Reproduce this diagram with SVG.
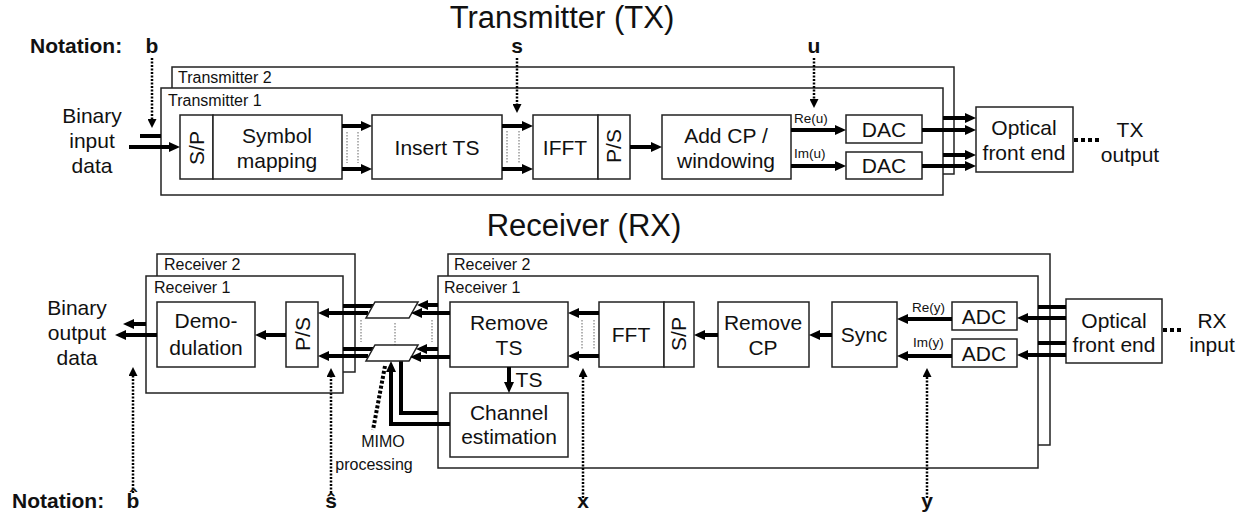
<svg xmlns="http://www.w3.org/2000/svg" width="1248" height="520" viewBox="0 0 1248 520">
<style>
text{font-family:"Liberation Sans",Arial,Helvetica,sans-serif;fill:#111}
.t{font-size:21px;text-anchor:middle}
.c{font-size:16px}
.xs{font-size:13.5px}
.b{font-weight:bold;font-size:21px;text-anchor:middle}
.title{font-size:31px;text-anchor:middle}
.box{fill:#fff;stroke:#222;stroke-width:1.5}
.th{fill:none;stroke:#000;stroke-width:4}
.dt{fill:none;stroke:#000;stroke-width:2.5;stroke-dasharray:2 1.5}
.fd{fill:none;stroke:#666;stroke-width:1;stroke-dasharray:1.5 1.5}
.big{fill:none;stroke:#000;stroke-width:4;stroke-dasharray:4 3}
</style>
<defs>
<marker id="a" viewBox="0 0 11 10" refX="3" refY="5" markerWidth="11" markerHeight="10" markerUnits="userSpaceOnUse" orient="auto"><path d="M0,0 L11,5 L0,10 Z" fill="#000"/></marker>
<marker id="d" viewBox="0 0 9 9" refX="2" refY="4.5" markerWidth="9" markerHeight="9" markerUnits="userSpaceOnUse" orient="auto"><path d="M0,0 L9,4.5 L0,9 Z" fill="#000"/></marker>
</defs>

<g id="titles">
<text class="title" x="562" y="27.5">Transmitter (TX)</text>
<text class="title" x="584" y="236">Receiver (RX)</text>
</g>

<g id="notation-top">
<text x="30" y="53" style="font-weight:bold;font-size:21px">Notation:</text>
<text class="b" x="152" y="53">b</text>
<text class="b" x="517" y="53">s</text>
<text class="b" x="814" y="53">u</text>
</g>

<g id="tx-containers">
<rect id="tx2" class="box" x="172" y="67" width="782" height="107"/>
<text class="c" x="178" y="83">Transmitter 2</text>
<rect id="tx1" class="box" x="161" y="88" width="782" height="107"/>
<text class="c" x="168" y="106">Transmitter 1</text>
</g>

<g id="tx-input">
<text class="t" x="92" y="123">Binary</text>
<text class="t" x="92" y="148">input</text>
<text class="t" x="92" y="173">data</text>
</g>

<g id="sp-symbol">
<rect class="box" x="180" y="115" width="33" height="64"/>
<rect class="box" x="213" y="115" width="129" height="64"/>
<text class="t" transform="translate(204,148) rotate(-90)">S/P</text>
<text class="t" x="277" y="143">Symbol</text>
<text class="t" x="277" y="168">mapping</text>
</g>

<g id="insert-ts">
<rect class="box" x="372" y="115" width="130" height="64"/>
<text class="t" x="437" y="155">Insert TS</text>
</g>

<g id="ifft-ps">
<rect class="box" x="533" y="115" width="65" height="64"/>
<rect class="box" x="598" y="115" width="32" height="64"/>
<text class="t" x="565" y="155">IFFT</text>
<text class="t" transform="translate(621,146) rotate(-90)">P/S</text>
</g>

<g id="add-cp">
<rect class="box" x="662" y="115" width="129" height="64"/>
<text class="t" x="726" y="143">Add CP /</text>
<text class="t" x="726" y="168">windowing</text>
</g>

<g id="dac1">
<rect class="box" x="846" y="115" width="76" height="28"/>
<text class="t" x="884" y="136.5">DAC</text>
</g>
<g id="dac2">
<rect class="box" x="846" y="152" width="76" height="27"/>
<text class="t" x="884" y="173">DAC</text>
</g>

<g id="tx-ofe">
<rect class="box" x="976" y="107" width="97" height="65"/>
<text class="t" x="1024" y="135">Optical</text>
<text class="t" x="1024" y="160">front end</text>
</g>
<g id="tx-output">
<text class="t" x="1130" y="137">TX</text>
<text class="t" x="1130" y="162">output</text>
</g>

<g id="rx-left-containers">
<rect id="rxl2" class="box" x="157" y="254" width="198" height="118"/>
<text class="c" x="164" y="270">Receiver 2</text>
<rect id="rxl1" class="box" x="146" y="276" width="197" height="117"/>
<text class="c" x="154" y="293">Receiver 1</text>
</g>

<g id="rx-right-containers">
<rect id="rxr2" class="box" x="448" y="254" width="602" height="191"/>
<text class="c" x="454" y="270">Receiver 2</text>
<rect id="rxr1" class="box" x="438" y="276" width="600" height="192"/>
<text class="c" x="444" y="293">Receiver 1</text>
</g>

<g id="rx-output">
<text class="t" x="77" y="315">Binary</text>
<text class="t" x="77" y="340">output</text>
<text class="t" x="77" y="365">data</text>
</g>

<g id="demod">
<rect class="box" x="157" y="302" width="98" height="65"/>
<text class="t" x="206" y="328">Demo-</text>
<text class="t" x="206" y="355">dulation</text>
</g>

<g id="rx-ps">
<rect class="box" x="286" y="302" width="32" height="65"/>
<text class="t" transform="translate(310,334) rotate(-90)">P/S</text>
</g>

<g id="remove-ts">
<rect class="box" x="450" y="302" width="118" height="65"/>
<text class="t" x="509" y="330">Remove</text>
<text class="t" x="509" y="355">TS</text>
</g>

<g id="chan-est">
<rect class="box" x="450" y="393" width="118" height="64"/>
<text class="t" x="509" y="420">Channel</text>
<text class="t" x="509" y="444">estimation</text>
</g>

<g id="fft-sp">
<rect class="box" x="599" y="302" width="65" height="65"/>
<rect class="box" x="664" y="302" width="30" height="65"/>
<text class="t" x="631" y="342">FFT</text>
<text class="t" transform="translate(686,334) rotate(-90)">S/P</text>
</g>

<g id="remove-cp">
<rect class="box" x="718" y="302" width="91" height="65"/>
<text class="t" x="763" y="330">Remove</text>
<text class="t" x="763" y="355">CP</text>
</g>

<g id="sync">
<rect class="box" x="832" y="302" width="65" height="65"/>
<text class="t" x="864" y="342">Sync</text>
</g>

<g id="adc1">
<rect class="box" x="952" y="302" width="65" height="28"/>
<text class="t" x="984" y="323.5">ADC</text>
</g>
<g id="adc2">
<rect class="box" x="952" y="339" width="65" height="28"/>
<text class="t" x="984" y="360.5">ADC</text>
</g>

<g id="rx-ofe">
<rect class="box" x="1066" y="299" width="96" height="64"/>
<text class="t" x="1114" y="328">Optical</text>
<text class="t" x="1114" y="352">front end</text>
</g>
<g id="rx-input">
<text class="t" x="1212" y="328">RX</text>
<text class="t" x="1212" y="352">input</text>
</g>

<g id="connectors">
<!-- TX -->
<path class="th" d="M140,136 H161"/>
<path class="th" d="M129,147 H172" marker-end="url(#a)"/>
<path class="th" d="M342,126 H364" marker-end="url(#a)"/>
<path class="th" d="M342,169 H364" marker-end="url(#a)"/>
<path class="fd" d="M347,132 V163 M358,132 V163"/>
<path class="th" d="M502,126 H525" marker-end="url(#a)"/>
<path class="th" d="M502,169 H525" marker-end="url(#a)"/>
<path class="fd" d="M507,131 V164 M519,131 V164"/>
<path class="th" d="M630,147 H654" marker-end="url(#a)"/>
<path class="th" d="M791,130 H838" marker-end="url(#a)"/>
<path class="th" d="M791,166 H838" marker-end="url(#a)"/>
<path class="th" d="M943,118 H968" marker-end="url(#a)"/>
<path class="th" d="M922,130 H968" marker-end="url(#a)"/>
<path class="th" d="M943,155 H968" marker-end="url(#a)"/>
<path class="th" d="M922,166 H968" marker-end="url(#a)"/>
<path class="big" d="M1074,140 H1099"/>
<path class="dt" d="M152,58 V121" marker-end="url(#d)"/>
<path class="dt" d="M517,58 V106" marker-end="url(#d)"/>
<path class="dt" d="M814,58 V101" marker-end="url(#d)"/>

<!-- RX -->
<path class="th" d="M157,335 H123" marker-end="url(#a)"/>
<path class="th" d="M146,324 H131" marker-end="url(#a)"/>
<path class="th" d="M286,335 H263" marker-end="url(#a)"/>
<path class="th" d="M343,306 H375"/>
<path class="th" d="M343,349 H375"/>
<path class="th" d="M368,313 H326" marker-end="url(#a)"/>
<path class="th" d="M368,356 H326" marker-end="url(#a)"/>
<path class="fd" d="M361,320 V342 M432,320 V342 M395,323 V352"/>
<path class="th" d="M401,360 V413 H438"/>
<path class="th" d="M450,424 H391 V369" marker-end="url(#a)"/>
<polygon class="box" points="375,302 418,302 409,318 366,318"/>
<polygon class="box" points="375,345 418,345 409,361 366,361"/>
<path class="th" d="M438,305 H425" marker-end="url(#a)"/>
<path class="th" d="M450,313 H419" marker-end="url(#a)"/>
<path class="th" d="M438,349 H424" marker-end="url(#a)"/>
<path class="th" d="M450,357 H418" marker-end="url(#a)"/>
<path class="big" d="M385,366 L373,430" style="stroke-dasharray:3 2"/>
<path class="th" d="M509,367 V385" marker-end="url(#a)"/>
<path class="th" d="M599,313 H576" marker-end="url(#a)"/>
<path class="th" d="M599,356 H576" marker-end="url(#a)"/>
<path class="fd" d="M582,320 V350 M594,320 V350"/>
<path class="th" d="M718,335 H702" marker-end="url(#a)"/>
<path class="th" d="M832,335 H817" marker-end="url(#a)"/>
<path class="th" d="M952,319 H905" marker-end="url(#a)"/>
<path class="th" d="M952,356 H905" marker-end="url(#a)"/>
<path class="th" d="M1038,307 H1066"/>
<path class="th" d="M1066,318 H1025" marker-end="url(#a)"/>
<path class="th" d="M1038,343 H1066"/>
<path class="th" d="M1066,355 H1025" marker-end="url(#a)"/>
<path class="big" d="M1163,330 H1184"/>
<path class="dt" d="M133,493 V374" marker-end="url(#d)"/>
<path class="dt" d="M331,493 V375" marker-end="url(#d)"/>
<path class="dt" d="M583,498 V375" marker-end="url(#d)"/>
<path class="dt" d="M927,498 V375" marker-end="url(#d)"/>
</g>

<g id="signal-labels">
<text class="xs" x="794" y="123">Re(u)</text>
<text class="xs" x="794" y="158">Im(u)</text>
<text class="xs" x="912" y="312">Re(y)</text>
<text class="xs" x="913" y="347">Im(y)</text>
<text class="t" x="529" y="387">TS</text>
<text class="c" x="383" y="447" style="text-anchor:middle">MIMO</text>
<text class="c" x="374" y="470" style="text-anchor:middle">processing</text>
</g>

<g id="notation-bottom">
<text x="12" y="508" style="font-weight:bold;font-size:21px">Notation:</text>
<text class="b" x="133" y="508">b̂</text>
<text class="b" x="331" y="508">ŝ</text>
<text class="b" x="583" y="508">x</text>
<text class="b" x="927" y="508">y</text>
</g>
</svg>
